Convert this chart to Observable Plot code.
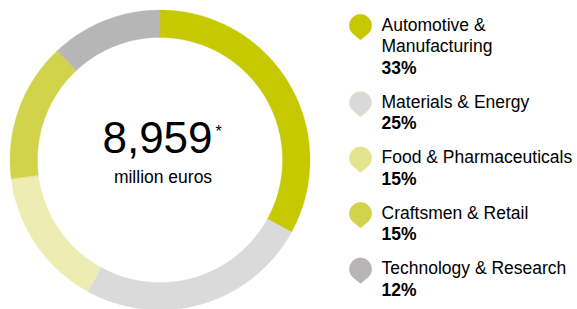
<!DOCTYPE html>
<html><head><meta charset="utf-8">
<script src="https://cdn.jsdelivr.net/npm/d3@7"></script>
<script src="https://cdn.jsdelivr.net/npm/@observablehq/plot@0.6"></script>
<style>body{margin:0;background:#fff}</style>
</head><body><div id="chart"></div>
<script>
const categories = ["Automotive & Manufacturing", "Materials & Energy", "Food & Pharmaceuticals", "Craftsmen & Retail", "Technology & Research"];
const labelLines = [["Automotive &", "Manufacturing"], ["Materials & Energy"], ["Food & Pharmaceuticals"], ["Craftsmen & Retail"], ["Technology & Research"]];
const shares = [33, 25, 15, 15, 12];
const total = 8959;
const totalNote = "*";
const totalUnit = "million euros";
const ringColors = ["#c6c900", "#dadada", "#ededb3", "#d1d34b", "#b6b6b6"];
const iconColors = ["#c6c900", "#d9d9d9", "#e3e48d", "#d1d34b", "#b6b6b6"];
const iconStrokes = ["#c6c900", "#e8e8c8", "#e3e48d", "#d1d34b", "#c8acb4"];

const W = 577, H = 309;
const cx = 160, cy = 160, R = 150, r0 = 122.5;
const font = "Liberation Sans, Arial, Helvetica, sans-serif";

// ring segments from data
const sum = d3.sum(shares);
let acc = 0;
const ring = [];
shares.forEach((v, i) => {
  const a0 = acc / sum * 2 * Math.PI, a1 = (acc + v) / sum * 2 * Math.PI;
  acc += v;
  const n = Math.max(2, Math.ceil((a1 - a0) / (Math.PI / 360)));
  for (let k = 0; k <= n; k++) {
    const a = a0 + (a1 - a0) * k / n;
    ring.push({cat: categories[i], color: ringColors[i],
      x1: cx + r0 * Math.sin(a), y1: cy - r0 * Math.cos(a),
      x2: cx + R * Math.sin(a), y2: cy - R * Math.cos(a)});
  }
});

// legend layout
const legendX = 381, iconX = 360, lh = 21.5, gap = 34, firstBase = 30;
let yb = firstBase;
const rows = [], icons = [];
labelLines.forEach((lines, i) => {
  icons.push({x: iconX, y: yb - 5, color: iconColors[i], stroke: iconStrokes[i]});
  lines.forEach(t => { rows.push({x: legendX, y: yb, text: t, bold: false}); yb += lh; });
  rows.push({x: legendX, y: yb, text: shares[i] + "%", bold: true});
  yb += gap;
});

const drop = {
  draw(context, size) {
    const r = Math.sqrt(size / Math.PI);
    const d = r * 1.3;
    const alpha = Math.acos(r / d);
    const ta = Math.PI / 2 - alpha;
    context.moveTo(0, d);
    context.lineTo(r * Math.cos(ta), r * Math.sin(ta));
    context.arc(0, 0, r, ta, Math.PI - ta, true);
    context.closePath();
  }
};

const chart = Plot.plot({
  width: W, height: H,
  margin: 0,
  x: {type: "identity", axis: null},
  y: {type: "identity", axis: null},
  marks: [
    Plot.area(ring, {x1: "x1", y1: "y1", x2: "x2", y2: "y2", z: "cat", fill: "color", stroke: "color", strokeWidth: 0.3}),
    Plot.text([{x: cx - 3, y: 152, t: d3.format(",")(total)}], {x: "x", y: "y", text: "t", fontSize: 44, textAnchor: "middle", lineAnchor: "bottom", fill: "#000", fontFamily: font}),
    Plot.text([{x: cx + 55, y: 136, t: totalNote}], {x: "x", y: "y", text: "t", fontSize: 16, textAnchor: "start", lineAnchor: "bottom", fill: "#000", fontFamily: font}),
    Plot.text([{x: cx + 2.5, y: 182, t: totalUnit}], {x: "x", y: "y", text: "t", fontSize: 17.5, textAnchor: "middle", lineAnchor: "bottom", fill: "#000", fontFamily: font}),
    Plot.dot(icons, {x: "x", y: "y", r: 11, symbol: drop, fill: "color", stroke: "stroke", strokeWidth: 0.8}),
    Plot.text(rows.filter(d => !d.bold), {x: "x", y: "y", text: "text", fontSize: 17.5, textAnchor: "start", lineAnchor: "bottom", fill: "#000", fontFamily: font}),
    Plot.text(rows.filter(d => d.bold), {x: "x", y: "y", text: "text", fontSize: 17.5, fontWeight: "bold", textAnchor: "start", lineAnchor: "bottom", fill: "#000", fontFamily: font})
  ]
});
document.getElementById("chart").appendChild(chart);
</script>
</body></html>
